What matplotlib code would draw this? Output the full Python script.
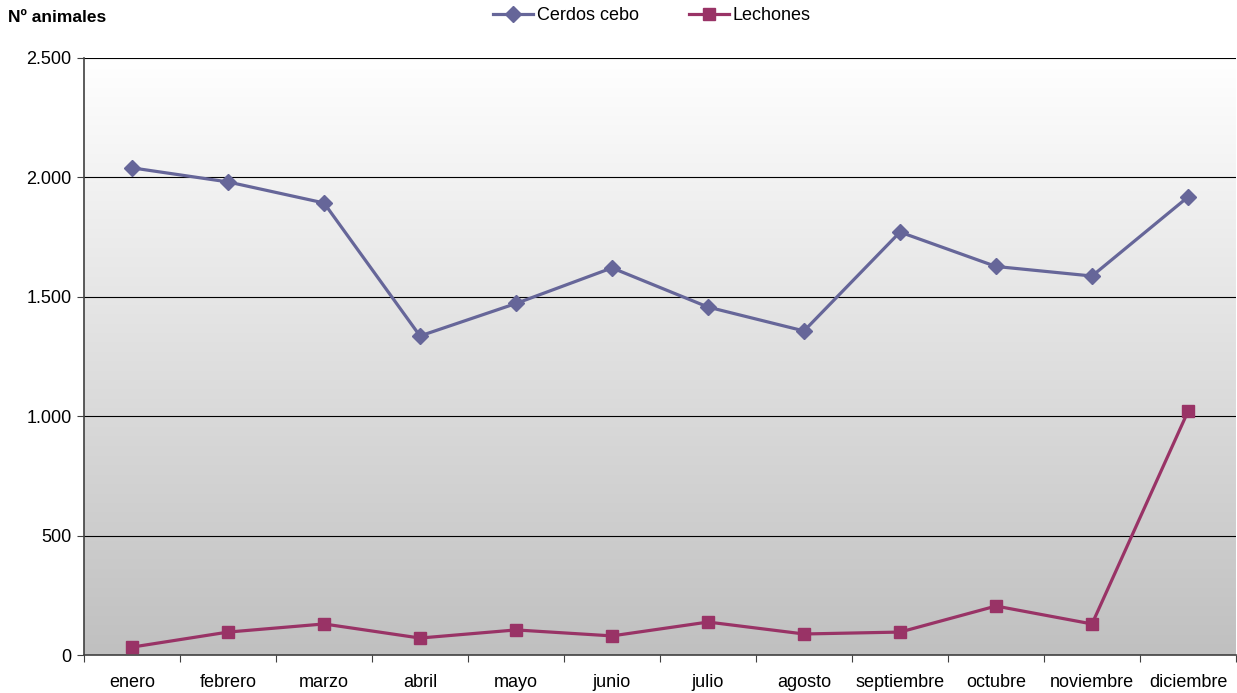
import matplotlib
matplotlib.use("Agg")
import matplotlib.pyplot as plt
import numpy as np
from matplotlib.ticker import FuncFormatter

plt.rcParams['font.family'] = ['Liberation Sans', 'DejaVu Sans']

meses = ['enero', 'febrero', 'marzo', 'abril', 'mayo', 'junio', 'julio',
         'agosto', 'septiembre', 'octubre', 'noviembre', 'diciembre']
cerdos_cebo = [2040, 1981, 1893, 1336, 1472, 1621, 1457, 1357, 1771, 1627, 1587, 1918]
lechones = [33, 96, 130, 71, 105, 80, 138, 88, 96, 205, 130, 1020]
y_ticks = [0, 500, 1000, 1500, 2000, 2500]

W, H = 1237, 693
fig = plt.figure(figsize=(W / 100, H / 100), dpi=100)
ax = fig.add_axes([84 / W, (H - 655) / H, (1236 - 84) / W, (655 - 58) / H])

# fondo degradado blanco -> gris
grad = np.linspace(0, 1, 256).reshape(-1, 1)
ax.imshow(grad, extent=[0, 1, 0, 1], transform=ax.transAxes, aspect='auto',
          cmap=matplotlib.colors.LinearSegmentedColormap.from_list('g', ['#ffffff', '#c0c0c0']),
          zorder=0, origin='upper')

x = np.arange(len(meses))
ax.plot(x, cerdos_cebo, color='#666699', lw=2.3, marker='D', markersize=8,
        label='Cerdos cebo', zorder=3, clip_on=False)
ax.plot(x, lechones, color='#993366', lw=2.3, marker='s', markersize=9,
        label='Lechones', zorder=3, clip_on=False)

ax.set_xlim(-0.5, len(meses) - 0.5)
ax.set_ylim(0, 2500)
ax.set_yticks(y_ticks)
ax.yaxis.set_major_formatter(FuncFormatter(lambda v, p: f'{int(v):,}'.replace(',', '.')))
for v in y_ticks[1:]:
    ax.axhline(v, color='#000000', lw=0.8, zorder=1)

ax.set_xticks(np.arange(-0.5, len(meses), 1))
ax.set_xticklabels([])
ax.set_xticks(x, minor=True)
ax.set_xticklabels(meses, minor=True)
ax.tick_params(axis='x', which='minor', length=0, pad=13.5, labelsize=13)
ax.tick_params(axis='x', which='major', length=5, direction='out', color='#404040')
ax.tick_params(axis='y', length=5, direction='out', labelsize=13, pad=4, color='#404040')

for s in ['top', 'right']:
    ax.spines[s].set_visible(False)
ax.spines['left'].set_color('#404040')
ax.spines['bottom'].set_color('#404040')
ax.spines['left'].set_linewidth(1.2)
ax.spines['bottom'].set_linewidth(1.2)

fig.text(8 / W, 1 - 17 / H, 'Nº animales', fontsize=12.5, fontweight='bold', va='center')
fig.legend(loc='center', bbox_to_anchor=(652 / W, 1 - 16 / H), ncol=2, frameon=False,
           fontsize=13, handlelength=2.2, columnspacing=2.8, handletextpad=0.2)

fig.savefig('out.png', dpi=100)
